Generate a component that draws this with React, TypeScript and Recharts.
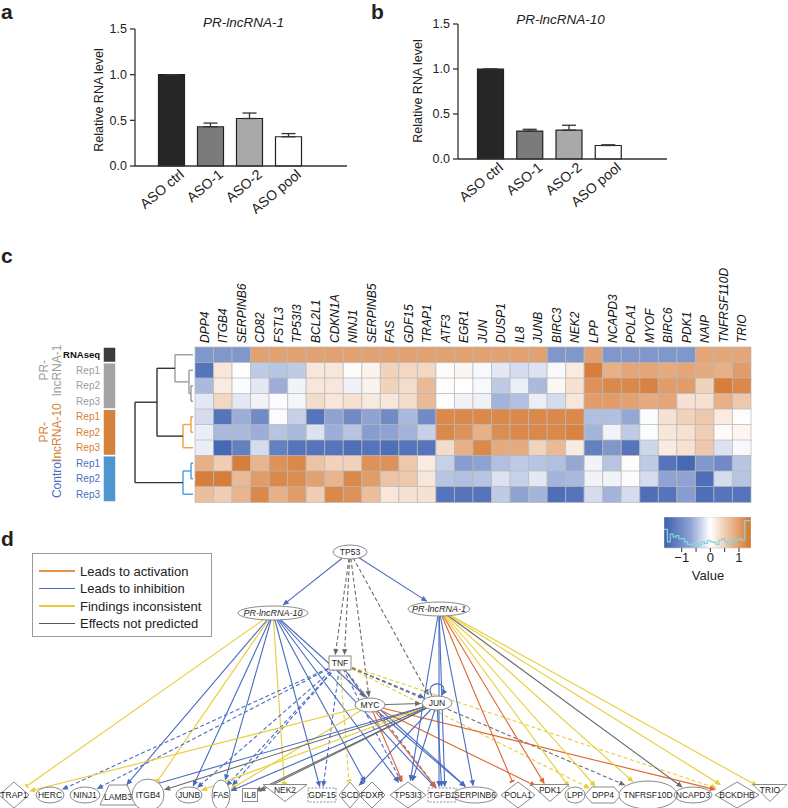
import React from "react"
import {
  BarChart,
  Bar,
  Cell,
  XAxis,
  YAxis,
  ErrorBar,
  ScatterChart,
  Scatter,
  ReferenceLine,
  ReferenceArea,
  LineChart,
  Line,
} from "recharts"

const FONT = "'Liberation Sans', Arial, Helvetica, sans-serif"

// ---------- a / b : knock-down bars ----------
const asoLabels = ["ASO ctrl", "ASO-1", "ASO-2", "ASO pool"]
const lnc1Level = [1.0, 0.43, 0.52, 0.32]
const lnc1Err = [0, 0.04, 0.06, 0.035]
const lnc10Level = [1.0, 0.31, 0.32, 0.15]
const lnc10Err = [0, 0.02, 0.055, 0.008]
const rnaTicks = [0, 0.5, 1, 1.5]
const barFills = ["#262626", "#7b7b7b", "#a9a9a9", "#ffffff"]

// ---------- c : heatmap ----------
const genes = [
  "DPP4", "ITGB4", "SERPINB6", "CD82", "FSTL3", "TP53I3", "BCL2L1", "CDKN1A", "NINJ1", "SERPINB5",
  "FAS", "GDF15", "TRAP1", "ATF3", "EGR1", "JUN", "DUSP1", "IL8", "JUNB", "BIRC3",
  "NEK2", "LPP", "NCAPD3", "POLA1", "MYOF", "BIRC6", "PDK1", "NAIP", "TNFRSF110D", "TRIO",
]
const rnaseq = [
  -0.9, -0.9, -0.9, 0.95, 0.95, 0.95, 0.95, 0.95, 0.95, 0.95,
  0.95, 0.95, 0.95, 0.95, 0.95, 0.95, 0.95, 0.95, 0.95, -0.9,
  -0.9, 0.95, -0.9, -0.9, -0.9, -0.9, -0.9, 0.9, 0.9, 0.9,
]
const lnc1Rep1 = [
  -1.2, 0.25, 0.02, -0.45, -0.5, -0.45, 0.25, 0.25, 0.05, 0.12,
  0.45, 0.4, 0.4, 0.03, 0.1, -0.05, -0.2, -0.3, -0.25, -0.05,
  0.2, 1.3, 0.8, 0.9, 0.9, 0.85, 0.9, 0.85, 0.8, 1.0,
]
const lnc1Rep2 = [
  -0.6, 0.2, -0.03, -0.2, -0.7, -0.1, 0.25, 0.25, -0.12, 0.12,
  0.45, 0.35, 0.7, 0.02, 0.0, -0.05, -0.45, -0.15, -0.6, 0.08,
  0.3, 1.1, 1.2, 1.2, 1.25, 1.0, 1.0, 0.45, 1.3, 1.2,
]
const lnc1Rep3 = [
  -0.2, 0.4, -0.2, -0.1, -0.03, -0.08, 0.35, 0.25, 0.3, 0.22,
  0.25, 0.35, 0.7, 0.02, -0.1, -0.12, -0.65, -0.55, -0.15, -0.3,
  0.25, 1.0, 1.0, 0.95, 0.85, 0.9, 0.3, 0.3, 0.8, 0.55,
]
const lnc10Rep1 = [
  -0.3, -1.2, -0.7, -1.0, -0.03, -0.4, -1.2, -0.8, -1.0, -0.8,
  -1.0, -0.6, -1.0, 1.2, 1.2, 1.2, 1.2, 1.2, 1.2, 1.2,
  1.2, -0.55, -0.55, -0.75, -0.03, 0.3, 0.45, 0.55, 0.2, 0.02,
]
const lnc10Rep2 = [
  -0.15, -0.6, -0.6, -0.7, -0.5, -0.6, -0.25, -0.7, -0.5, -0.85,
  -0.8, -0.65, -0.4, 1.2, 1.1, 0.8, 1.15, 1.2, 1.2, 1.2,
  1.25, -0.65, -0.1, -0.45, -0.03, 0.25, 0.3, 0.5, 0.05, 0.1,
]
const lnc10Rep3 = [
  -0.15, -1.3, -1.1, -0.3, -1.1, -1.2, -1.2, -1.2, -1.25, -1.2,
  -1.25, -1.2, -1.2, 0.35, 0.8, 1.2, 0.85, 0.85, 0.45, 0.7,
  0.2, -1.1, -0.9, -1.2, -0.35, 0.2, 0.3, 0.55, -0.25, -0.05,
]
const ctrlRep1 = [
  0.8, 0.5, 1.3, 0.75, 1.1, 1.2, 0.6, 0.45, 0.45, 1.1,
  1.1, 0.55, 0.2, -0.4, -0.85, -0.8, -0.55, -0.45, -0.5, -0.55,
  -0.75, -0.1, -0.5, 0.03, -0.45, -1.2, -1.3, -0.9, -1.0, -0.5,
]
const ctrlRep2 = [
  1.3, 1.3, 0.7, 1.0, 1.2, 1.15, 0.95, 0.75, 1.2, 1.0,
  0.6, 0.55, 0.25, -0.5, -0.55, -0.5, -0.25, -0.4, -0.2, -0.65,
  -0.6, -0.1, -0.1, 0.03, -0.3, -0.8, -0.8, -1.25, -0.3, -0.5,
]
const ctrlRep3 = [
  0.65, 0.5, 0.75, 1.2, 0.8, 1.0, 0.5, 1.2, 1.1, 0.65,
  0.25, 0.3, 0.3, -1.2, -1.2, -1.2, -0.45, -0.8, -0.65, -1.25,
  -1.2, -0.3, -0.65, -0.3, -1.25, -1.2, -0.85, -1.25, -1.2, -1.2,
]
const heatRows = [rnaseq, lnc1Rep1, lnc1Rep2, lnc1Rep3, lnc10Rep1, lnc10Rep2, lnc10Rep3, ctrlRep1, ctrlRep2, ctrlRep3]
const rowLabels = ["RNAseq", "Rep1", "Rep2", "Rep3", "Rep1", "Rep2", "Rep3", "Rep1", "Rep2", "Rep3"]
const rowGroup = [0, 1, 1, 1, 2, 2, 2, 3, 3, 3]

// sample groups (top to bottom): RNAseq, PR-lncRNA-1, PR-lncRNA-10, Control
const groupKeys = ["rnaseq", "lnc1", "lnc10", "ctrl"]
const groupSizes = [1, 3, 3, 3]
const groupFill = ["#3b3b3b", "#a3a3a3", "#d5823d", "#4d96cf"]
const groupText = ["#111111", "#9d9d9d", "#d4813a", "#4672c0"]

// dendrogram merges: children are row indices (numbers) or earlier merge ids
const dendroMerges = [
  { id: "m1", a: 2, b: 3, h: 2, color: "#9b9b9b" },
  { id: "m2", a: 1, b: "m1", h: 4, color: "#9b9b9b" },
  { id: "m3", a: 0, b: "m2", h: 18, color: "#9b9b9b" },
  { id: "m4", a: 4, b: 5, h: 2, color: "#e8a33d" },
  { id: "m5", a: "m4", b: 6, h: 10, color: "#e8a33d" },
  { id: "m6", a: "m3", b: "m5", h: 36, color: "#333333" },
  { id: "m7", a: 7, b: 8, h: 2, color: "#4d9bd6" },
  { id: "m8", a: "m7", b: 9, h: 10, color: "#4d9bd6" },
  { id: "m9", a: "m6", b: "m8", h: 58, color: "#333333" },
]

// colour key histogram (bin start, relative count)
const histX = [
  -1.62, -1.5, -1.4, -1.3, -1.2, -1.1, -1.0, -0.9, -0.8, -0.7, -0.6, -0.5, -0.4, -0.3, -0.2, -0.1,
  0, 0.1, 0.2, 0.3, 0.4, 0.5, 0.6, 0.7, 0.8, 0.9, 1.0, 1.1, 1.2, 1.3, 1.42,
]
const histH = [
  0.6, 0.2, 0.45, 0.35, 0.4, 0.3, 0.3, 0.2, 0.12, 0.1, 0.15, 0.08, 0.12, 0.2, 0.15, 0.25,
  0.2, 0.18, 0.12, 0.25, 0.3, 0.2, 0.12, 0.2, 0.3, 0.25, 0.3, 0.25, 0.88, 0.88, 0.88,
]
const keyTicks = [-1, -0.5, 0, 0.5, 1]

// ---------- d : network ----------
const nodeNames = [
  "TP53", "PR-lncRNA-10", "PR-lncRNA-1", "TNF", "MYC", "JUN",
  "TRAP1", "HERC", "NINJ1", "LAMB3", "ITGB4", "JUNB", "FAS", "IL8", "NEK2", "GDF15", "SCD", "FDXR",
  "TP53I3", "TGFB2", "SERPINB6", "POLA1", "PDK1", "LPP", "DPP4", "TNFRSF10D", "NCAPD3", "BCKDHB", "TRIO",
]
const nodeX = [350, 273, 439, 340, 370, 437, 14, 50, 85, 118, 148, 189, 221, 250, 285, 322, 350, 372, 408, 442, 475, 518, 550, 575, 603, 648, 693, 737, 770]
const nodeY = [552, 613, 609, 663, 705, 703, 795, 795, 795, 795, 795, 795, 795, 795, 793, 795, 795, 795, 795, 795, 795, 795, 793, 795, 795, 795, 795, 795, 793]

type Kind = "act" | "inh" | "inc" | "np"
// [from, to, kind, dashed, head (a = arrow, b = bar), offset at target]
const edges: [string, string, Kind, number, string, number][] = [
  ["TP53", "PR-lncRNA-10", "inh", 0, "a", 0],
  ["TP53", "PR-lncRNA-1", "inh", 0, "a", 0],
  ["TP53", "TNF", "np", 1, "a", -6],
  ["TP53", "TNF", "np", 1, "a", 4],
  ["TP53", "MYC", "np", 1, "a", 0],
  ["TP53", "JUN", "np", 1, "a", -4],
  ["PR-lncRNA-10", "TRAP1", "inc", 0, "b", 0],
  ["PR-lncRNA-10", "LAMB3", "inh", 0, "a", 0],
  ["PR-lncRNA-10", "ITGB4", "inc", 0, "b", 0],
  ["PR-lncRNA-10", "JUNB", "inh", 0, "a", 0],
  ["PR-lncRNA-10", "FAS", "inh", 0, "a", 0],
  ["PR-lncRNA-10", "NEK2", "inc", 0, "b", 0],
  ["PR-lncRNA-10", "GDF15", "inh", 0, "a", 0],
  ["PR-lncRNA-10", "FDXR", "inh", 0, "a", 0],
  ["PR-lncRNA-10", "TP53I3", "inh", 0, "a", 0],
  ["PR-lncRNA-10", "TGFB2", "inh", 0, "a", 0],
  ["PR-lncRNA-10", "SERPINB6", "inh", 0, "a", 0],
  ["TNF", "HERC", "inh", 1, "a", 0],
  ["TNF", "NINJ1", "inh", 1, "a", 0],
  ["TNF", "JUNB", "inh", 1, "a", 0],
  ["TNF", "FAS", "inh", 1, "a", -3],
  ["TNF", "FAS", "inh", 1, "a", 3],
  ["TNF", "GDF15", "inh", 1, "a", 0],
  ["TNF", "SCD", "inc", 1, "b", 0],
  ["TNF", "MYC", "np", 0, "a", 0],
  ["TNF", "JUN", "inh", 1, "a", 0],
  ["TNF", "TP53I3", "inh", 1, "a", 0],
  ["TNF", "TGFB2", "inh", 1, "a", 0],
  ["TNF", "DPP4", "inc", 1, "a", 0],
  ["TNF", "BCKDHB", "inc", 1, "a", 0],
  ["TNF", "TNFRSF10D", "np", 1, "a", 0],
  ["MYC", "TRAP1", "inc", 0, "a", 0],
  ["MYC", "JUN", "np", 0, "a", 0],
  ["MYC", "TP53I3", "act", 0, "a", 0],
  ["MYC", "TGFB2", "act", 0, "a", 0],
  ["MYC", "PDK1", "act", 0, "a", 0],
  ["MYC", "BCKDHB", "act", 0, "a", 0],
  ["MYC", "SERPINB6", "inh", 0, "a", 0],
  ["MYC", "FAS", "inc", 0, "a", 0],
  ["JUN", "LAMB3", "inh", 0, "a", 0],
  ["JUN", "ITGB4", "np", 0, "a", 0],
  ["JUN", "JUNB", "inc", 0, "a", 0],
  ["JUN", "FAS", "inh", 0, "a", 0],
  ["JUN", "IL8", "np", 0, "a", -2],
  ["JUN", "IL8", "np", 0, "a", 2],
  ["JUN", "SCD", "inh", 0, "a", 0],
  ["JUN", "TP53I3", "inh", 0, "a", 0],
  ["JUN", "TGFB2", "inh", 0, "a", 0],
  ["PR-lncRNA-1", "TP53I3", "inh", 0, "a", 0],
  ["PR-lncRNA-1", "TGFB2", "inh", 0, "a", -3],
  ["PR-lncRNA-1", "TGFB2", "inh", 0, "a", 3],
  ["PR-lncRNA-1", "SERPINB6", "inh", 0, "a", 0],
  ["PR-lncRNA-1", "POLA1", "act", 0, "b", 0],
  ["PR-lncRNA-1", "PDK1", "act", 0, "a", 0],
  ["PR-lncRNA-1", "LPP", "inc", 0, "a", 0],
  ["PR-lncRNA-1", "DPP4", "inc", 0, "a", 0],
  ["PR-lncRNA-1", "TNFRSF10D", "inc", 0, "a", 0],
  ["PR-lncRNA-1", "NCAPD3", "np", 0, "a", 0],
  ["PR-lncRNA-1", "BCKDHB", "inc", 0, "a", 0],
  ["PR-lncRNA-1", "TRIO", "inc", 0, "a", 0],
]

const legendItems: [Kind, string][] = [
  ["act", "Leads to activation"],
  ["inh", "Leads to inhibition"],
  ["inc", "Findings inconsistent"],
  ["np", "Effects not predicted"],
]

const edgeColor: Record<Kind, string> = {
  act: "#e0652e",
  inh: "#4a6bc0",
  inc: "#e6cd35",
  np: "#6b6b6b",
}
const legendColor: Record<Kind, string> = {
  act: "#e59445",
  inh: "#4a6bc0",
  inc: "#e6cd35",
  np: "#555555",
}

type Look = { shape: string; w: number; h: number; italic?: boolean; loop?: boolean }
const nodeLook: Record<string, Look> = {
  TP53: { shape: "ellipse", w: 34, h: 14 },
  "PR-lncRNA-10": { shape: "ellipse", w: 70, h: 14, italic: true },
  "PR-lncRNA-1": { shape: "ellipse", w: 62, h: 14, italic: true },
  TNF: { shape: "box", w: 22, h: 14 },
  MYC: { shape: "ellipse", w: 30, h: 14 },
  JUN: { shape: "ellipse", w: 30, h: 14, loop: true },
  TRAP1: { shape: "diamond", w: 30, h: 26 },
  HERC: { shape: "ellipse", w: 28, h: 16 },
  NINJ1: { shape: "ellipse", w: 30, h: 16 },
  LAMB3: { shape: "trap", w: 36, h: 20 },
  ITGB4: { shape: "ellipse", w: 32, h: 32 },
  JUNB: { shape: "ellipse", w: 26, h: 16 },
  FAS: { shape: "ellipse", w: 18, h: 30 },
  IL8: { shape: "box", w: 15, h: 13 },
  NEK2: { shape: "tri", w: 44, h: 17 },
  GDF15: { shape: "dbox", w: 28, h: 14 },
  SCD: { shape: "diamond", w: 22, h: 26 },
  FDXR: { shape: "diamond", w: 26, h: 26 },
  TP53I3: { shape: "diamond", w: 36, h: 26 },
  TGFB2: { shape: "dbox", w: 28, h: 14 },
  SERPINB6: { shape: "ellipse", w: 44, h: 16 },
  POLA1: { shape: "diamond", w: 34, h: 26 },
  PDK1: { shape: "tri", w: 38, h: 17 },
  LPP: { shape: "ellipse", w: 20, h: 16 },
  DPP4: { shape: "hex", w: 36, h: 16 },
  TNFRSF10D: { shape: "ellipse", w: 58, h: 28 },
  NCAPD3: { shape: "ellipse", w: 38, h: 16 },
  BCKDHB: { shape: "diamond", w: 44, h: 26 },
  TRIO: { shape: "tri", w: 34, h: 17 },
}

// ---------- helpers ----------
function heatColor(v: number) {
  const t = Math.min(1, Math.abs(v) / 1.35)
  const end = v < 0 ? [64, 99, 178] : [214, 121, 52]
  const c = end.map((e) => Math.round(255 + (e - 255) * t))
  return `rgb(${c[0]},${c[1]},${c[2]})`
}

function Txt({ x, y, size, children, bold, italic, color, rotate, anchor }: any) {
  const tx = anchor === "start" ? "0" : "-50%"
  return (
    <div
      style={{
        position: "absolute",
        left: x,
        top: y,
        fontSize: size,
        fontWeight: bold ? "bold" : "normal",
        fontStyle: italic ? "italic" : "normal",
        color: color || "#222",
        whiteSpace: "nowrap",
        lineHeight: 1,
        transform: `translate(${tx}, -50%)${rotate ? ` rotate(${rotate}deg)` : ""}`,
        transformOrigin: "center",
      }}
    >
      {children}
    </div>
  )
}

function AsoTick(props: any) {
  const { x, y, payload } = props
  const ax = x + 14
  const ay = y + 2
  return (
    <text x={ax} y={ay} transform={`rotate(-40 ${ax} ${ay})`} textAnchor="end" fontSize={14} fill="#222" fontFamily={FONT}>
      {payload.value}
    </text>
  )
}

function KnockdownChart({ values, errors, left, width, height, margin, xh, padLeft, padRight }: any) {
  const data = asoLabels.map((name, i) => ({ name, value: values[i], err: [0, errors[i]] }))
  return (
    <div style={{ position: "absolute", left, top: 0 }}>
      <BarChart width={width} height={height} data={data} margin={margin} style={{ fontFamily: FONT }}>
        <XAxis
          dataKey="name"
          interval={0}
          height={xh}
          tickLine={false}
          padding={{ left: padLeft, right: padRight }}
          axisLine={{ stroke: "#333", strokeWidth: 1.3 }}
          tick={<AsoTick />}
        />
        <YAxis
          domain={[0, 1.5]}
          ticks={rnaTicks}
          width={45}
          tickSize={5}
          tickMargin={3}
          tickFormatter={(v: number) => v.toFixed(1)}
          axisLine={{ stroke: "#333", strokeWidth: 1.3 }}
          tickLine={{ stroke: "#333", strokeWidth: 1.3 }}
          tick={{ fontSize: 12.5, fill: "#222" }}
        />
        <Bar dataKey="value" barSize={26} stroke="#222" strokeWidth={1.2} isAnimationActive={false}>
          {data.map((d, i) => (
            <Cell key={d.name} fill={barFills[i]} />
          ))}
          <ErrorBar dataKey="err" width={7} stroke="#333" strokeWidth={1.3} />
        </Bar>
      </BarChart>
    </div>
  )
}

function GeneTick(props: any) {
  const { x, y, payload } = props
  const gx = x + 4.5
  return (
    <text x={gx} y={y} transform={`rotate(-90 ${gx} ${y})`} textAnchor="start" fontSize={12} fontStyle="italic" fill="#111" fontFamily={FONT}>
      {genes[Math.floor(payload.value)]}
    </text>
  )
}

function Heatmap() {
  const data = heatRows.map((_, r) => {
    const row: Record<string, any> = { row: "r" + r }
    genes.forEach((_, c) => (row["c" + c] = 1))
    return row
  })
  return (
    <div style={{ position: "absolute", left: 190, top: 255 }}>
      <BarChart layout="vertical" width={570} height={250} data={data} barCategoryGap={0} margin={{ top: 0, right: 9, bottom: 3, left: 5 }}>
        <XAxis
          type="number"
          orientation="top"
          domain={[0, genes.length]}
          ticks={genes.map((_, i) => i + 0.5)}
          interval={0}
          height={92}
          tickSize={0}
          tickMargin={4}
          tickLine={false}
          axisLine={false}
          tick={<GeneTick />}
        />
        <YAxis type="category" dataKey="row" hide />
        {genes.map((g, c) => (
          <Bar key={g} dataKey={"c" + c} stackId="h" isAnimationActive={false}>
            {heatRows.map((vals, r) => (
              <Cell key={r} fill={heatColor(vals[c])} stroke="#b8b8b8" strokeWidth={0.7} />
            ))}
          </Bar>
        ))}
      </BarChart>
    </div>
  )
}

function RowTick(props: any) {
  const { x, y, payload } = props
  const r = Math.round(rowLabels.length - 0.5 - payload.value)
  const g = rowGroup[r]
  const groupLabel = (lines: string[], cy: number) =>
    lines.map((s, i) => {
      const gx = lines.length === 1 ? 61 : i === 0 ? 48 : 61
      return (
        <text key={s} x={gx} y={cy} transform={`rotate(-90 ${gx} ${cy})`} textAnchor="middle" fontSize={12} fill={groupText[g]} fontFamily={FONT}>
          {s}
        </text>
      )
    })
  return (
    <g>
      <text x={x} y={y} dy="0.35em" textAnchor="end" fontSize={r === 0 ? 9.5 : 10} fontWeight={r === 0 ? "bold" : "normal"} fill={groupText[g]} fontFamily={FONT}>
        {rowLabels[r]}
      </text>
      {r === 1 && groupLabel(["PR-", "lncRNA-1"], y)}
      {r === 5 && groupLabel(["PR-", "lncRNA-10"], y)}
      {r === 8 && groupLabel(["Control"], y)}
    </g>
  )
}

function SampleStrip() {
  const entry: Record<string, any> = { k: "samples" }
  groupKeys.forEach((k, i) => (entry[k] = groupSizes[i]))
  const order = [3, 2, 1, 0]
  return (
    <div style={{ position: "absolute", left: 0, top: 322 }}>
      <BarChart width={116} height={205} data={[entry]} barCategoryGap={0} margin={{ top: 25, right: 0, bottom: 25, left: 0 }}>
        <XAxis dataKey="k" hide />
        <YAxis
          type="number"
          domain={[0, rowLabels.length]}
          ticks={rowLabels.map((_, i) => i + 0.5)}
          interval={0}
          width={103}
          tickSize={0}
          tickMargin={3}
          axisLine={false}
          tickLine={false}
          tick={<RowTick />}
        />
        {order.map((gi) => (
          <Bar key={groupKeys[gi]} dataKey={groupKeys[gi]} stackId="s" fill={groupFill[gi]} stroke="#fff" strokeWidth={1.5} isAnimationActive={false} />
        ))}
      </BarChart>
    </div>
  )
}

function Dendrogram() {
  const pos: Record<string, { y: number; h: number }> = {}
  const getPos = (c: number | string) => (typeof c === "number" ? { y: c + 0.5, h: 0 } : pos[c])
  const segs: { p: [number, number][]; color: string }[] = []
  dendroMerges.forEach((m) => {
    const a = getPos(m.a)
    const b = getPos(m.b)
    segs.push({ p: [[a.h, a.y], [m.h, a.y]], color: m.color })
    segs.push({ p: [[b.h, b.y], [m.h, b.y]], color: m.color })
    segs.push({ p: [[m.h, a.y], [m.h, b.y]], color: m.color })
    pos[m.id] = { y: (a.y + b.y) / 2, h: m.h }
  })
  const leaves = rowLabels.map((_, r) => ({ h: 0, y: r + 0.5 }))
  return (
    <div style={{ position: "absolute", left: 133, top: 347 }}>
      <ScatterChart width={60} height={155} margin={{ top: 0, right: 0, bottom: 0, left: 0 }}>
        <XAxis type="number" dataKey="h" domain={[0, 60]} reversed hide />
        <YAxis type="number" dataKey="y" domain={[0, rowLabels.length]} reversed hide />
        {segs.map((s, i) => (
          <ReferenceLine
            key={i}
            segment={[{ x: s.p[0][0], y: s.p[0][1] }, { x: s.p[1][0], y: s.p[1][1] }]}
            stroke={s.color}
            strokeWidth={1.4}
            ifOverflow="visible"
          />
        ))}
        <Scatter data={leaves} shape={() => <g />} isAnimationActive={false} />
      </ScatterChart>
    </div>
  )
}

function ColorKey() {
  const data = histX.map((x, i) => ({ x, h: histH[i] }))
  return (
    <div style={{ position: "absolute", left: 664, top: 517 }}>
      <LineChart width={87} height={50} data={data} margin={{ top: 0, right: 0, bottom: 0, left: 0 }}>
        <XAxis
          type="number"
          dataKey="x"
          domain={[-1.62, 1.42]}
          ticks={keyTicks}
          interval={0}
          height={19}
          tickSize={4}
          tickMargin={1}
          axisLine={false}
          tickLine={{ stroke: "#333" }}
          tickFormatter={(v: number) => (v === -1 ? "\u22121" : v === 0 ? "0" : v === 1 ? "1" : "")}
          tick={{ fontSize: 13, fill: "#222", fontFamily: FONT }}
        />
        <YAxis type="number" domain={[0, 1]} hide />
        <ReferenceArea x1={-1.62} x2={1.42} y1={0} y2={1} fill="url(#valueGrad)" fillOpacity={1} stroke="#c8c8c8" strokeWidth={0.6} />
        <Line type="stepAfter" dataKey="h" stroke="#86d3dc" strokeWidth={1.2} dot={false} isAnimationActive={false} />
      </LineChart>
    </div>
  )
}

function NodeShape(props: any) {
  const { cx, cy, payload } = props
  const look = nodeLook[payload.name]
  const w = look.w
  const h = look.h
  const common = { fill: "#fff", stroke: "#8a8a8a", strokeWidth: 1 }
  let body: React.ReactNode = null
  if (look.shape === "ellipse") body = <ellipse cx={cx} cy={cy} rx={w / 2} ry={h / 2} {...common} />
  else if (look.shape === "box") body = <rect x={cx - w / 2} y={cy - h / 2} width={w} height={h} {...common} />
  else if (look.shape === "dbox")
    body = <rect x={cx - w / 2} y={cy - h / 2} width={w} height={h} {...common} strokeDasharray="2 1.5" />
  else if (look.shape === "diamond")
    body = <polygon points={`${cx - w / 2},${cy} ${cx},${cy - h / 2} ${cx + w / 2},${cy} ${cx},${cy + h / 2}`} {...common} />
  else if (look.shape === "tri")
    body = <polygon points={`${cx - w / 2},${cy - h / 2} ${cx + w / 2},${cy - h / 2} ${cx},${cy + h / 2}`} {...common} />
  else if (look.shape === "trap")
    body = (
      <polygon
        points={`${cx - w / 2 + 9},${cy - h / 2} ${cx + w / 2 - 9},${cy - h / 2} ${cx + w / 2},${cy + h / 2} ${cx - w / 2},${cy + h / 2}`}
        {...common}
      />
    )
  else if (look.shape === "hex")
    body = (
      <polygon
        points={`${cx - w / 2},${cy} ${cx - w / 2 + 7},${cy - h / 2} ${cx + w / 2 - 7},${cy - h / 2} ${cx + w / 2},${cy} ${cx + w / 2 - 7},${cy + h / 2} ${cx - w / 2 + 7},${cy + h / 2}`}
        {...common}
      />
    )
  const ty = look.shape === "tri" ? cy - h / 2 + 6 : look.shape === "trap" ? cy + 2 : cy
  return (
    <g>
      {look.loop && (
        <path
          d={`M ${cx - 5} ${cy - h / 2} C ${cx - 14} ${cy - h / 2 - 16}, ${cx + 14} ${cy - h / 2 - 16}, ${cx + 5} ${cy - h / 2 - 1}`}
          fill="none"
          stroke={edgeColor.inh}
          strokeWidth={1.1}
          markerEnd="url(#a-inh)"
        />
      )}
      {body}
      <text
        x={cx}
        y={ty}
        dy="0.35em"
        textAnchor="middle"
        fontSize={look.italic ? 9 : 8.5}
        fontStyle={look.italic ? "italic" : "normal"}
        fill="#222"
        fontFamily={FONT}
      >
        {payload.name}
      </text>
    </g>
  )
}

function Network() {
  const nodes = nodeNames.map((name, i) => ({ name, x: nodeX[i], y: nodeY[i] }))
  const byName: Record<string, { x: number; y: number }> = {}
  nodes.forEach((n) => (byName[n.name] = n))
  const lines = edges.map(([from, to, kind, dashed, head, off]) => {
    const s = byName[from]
    const t = byName[to]
    const look = nodeLook[to]
    const tx = t.x + off
    const ty = t.y
    const dx = s.x - tx
    const dy = s.y - ty
    const k = 1 / Math.sqrt((dx / (look.w / 2 + 1.5)) ** 2 + (dy / (look.h / 2 + 1.5)) ** 2)
    return { from, to, kind, dashed, head, seg: [{ x: s.x, y: s.y }, { x: tx + dx * k, y: ty + dy * k }] }
  })
  return (
    <div style={{ position: "absolute", left: 0, top: 540 }}>
      <ScatterChart width={788} height={268} margin={{ top: 0, right: 0, bottom: 0, left: 0 }}>
        <XAxis type="number" dataKey="x" domain={[0, 788]} hide />
        <YAxis type="number" dataKey="y" domain={[540, 808]} reversed hide />
        {lines.map((l, i) => (
          <ReferenceLine
            key={i}
            segment={l.seg}
            ifOverflow="visible"
            shape={(p: any) => (
              <line
                x1={p.x1}
                y1={p.y1}
                x2={p.x2}
                y2={p.y2}
                stroke={edgeColor[l.kind]}
                strokeWidth={1.1}
                strokeDasharray={l.dashed ? "4 2.5" : undefined}
                markerEnd={`url(#${l.head}-${l.kind})`}
              />
            )}
          />
        ))}
        <Scatter data={nodes} shape={<NodeShape />} isAnimationActive={false} />
      </ScatterChart>
    </div>
  )
}

function Defs() {
  const kinds: Kind[] = ["act", "inh", "inc", "np"]
  return (
    <svg width={0} height={0} style={{ position: "absolute" }}>
      <defs>
        <linearGradient id="valueGrad" x1="0" y1="0" x2="1" y2="0">
          <stop offset="0" stopColor="#3d5fae" />
          <stop offset="0.3" stopColor="#8ca2d2" />
          <stop offset="0.53" stopColor="#ffffff" />
          <stop offset="0.76" stopColor="#e9bb95" />
          <stop offset="1" stopColor="#d4762c" />
        </linearGradient>
        {kinds.map((k) => (
          <marker key={"a" + k} id={`a-${k}`} viewBox="0 0 10 10" refX="9" refY="5" markerWidth="7" markerHeight="6" markerUnits="userSpaceOnUse" orient="auto">
            <path d="M0,0.5 L10,5 L0,9.5 z" fill={edgeColor[k]} />
          </marker>
        ))}
        {kinds.map((k) => (
          <marker key={"b" + k} id={`b-${k}`} viewBox="0 0 4 10" refX="2" refY="5" markerWidth="2" markerHeight="7" markerUnits="userSpaceOnUse" orient="auto">
            <rect x="0" y="0" width="4" height="10" fill={edgeColor[k]} />
          </marker>
        ))}
      </defs>
    </svg>
  )
}

function Legend() {
  return (
    <div
      style={{
        position: "absolute",
        left: 32,
        top: 553,
        width: 178,
        height: 82,
        border: "1px solid #9a9a9a",
        background: "#fff",
      }}
    >
      {legendItems.map(([k, label], i) => (
        <div key={k} style={{ position: "absolute", left: 6, top: 17.5 * i + 9, display: "flex", alignItems: "center", height: 16 }}>
          <div style={{ width: 36, height: 1.6, background: legendColor[k] }} />
          <span style={{ marginLeft: 5, fontSize: 13, color: "#222", lineHeight: 1 }}>{label}</span>
        </div>
      ))}
    </div>
  )
}

export default function App() {
  return (
    <div
      style={{
        position: "absolute",
        left: 0,
        top: 0,
        width: 788,
        height: 808,
        background: "#fff",
        overflow: "hidden",
        fontFamily: FONT,
      }}
    >
      <Defs />
      <Txt x={1} y={11} size={21} bold anchor="start">a</Txt>
      <Txt x={371} y={11} size={21} bold anchor="start">b</Txt>
      <Txt x={1} y={255} size={21} bold anchor="start">c</Txt>
      <Txt x={1} y={538} size={21} bold anchor="start">d</Txt>

      <Txt x={243.5} y={23} size={13.5} italic>PR-lncRNA-1</Txt>
      <Txt x={560.5} y={20} size={13.5} italic>PR-lncRNA-10</Txt>
      <Txt x={99} y={100} size={12.5} rotate={-90}>Relative RNA level</Txt>
      <Txt x={418} y={91} size={12.5} rotate={-90}>Relative RNA level</Txt>

      <KnockdownChart
        values={lnc1Level}
        errors={lnc1Err}
        left={0}
        width={360}
        height={228}
        margin={{ top: 29, right: 13, bottom: 0, left: 90 }}
        xh={62}
        padLeft={16.5}
        padRight={39.5}
      />
      <KnockdownChart
        values={lnc10Level}
        errors={lnc10Err}
        left={370}
        width={310}
        height={228}
        margin={{ top: 24, right: 13, bottom: 0, left: 43 }}
        xh={69}
        padLeft={12.5}
        padRight={39.5}
      />

      <SampleStrip />
      <Dendrogram />
      <Heatmap />
      <ColorKey />
      <Txt x={708} y={575} size={13}>Value</Txt>

      <Legend />
      <Network />
    </div>
  )
}
